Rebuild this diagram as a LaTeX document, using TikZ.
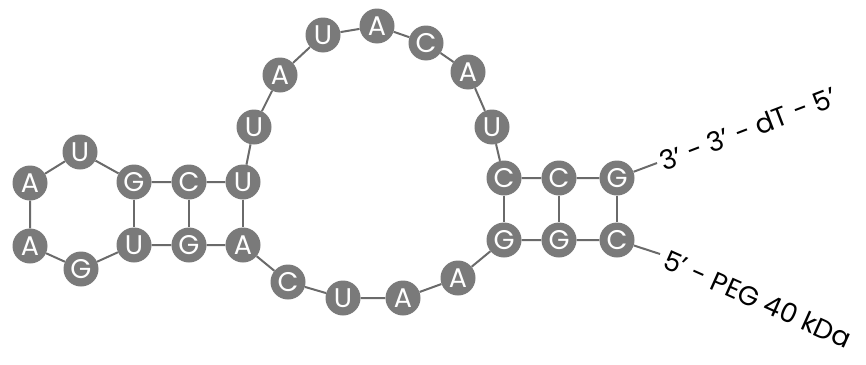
\documentclass[tikz,border=0pt]{standalone}
\usepackage{fontspec}
\setmainfont{Poppins}
\definecolor{basegrey}{HTML}{7A7A7A}
\definecolor{linkgrey}{HTML}{6A6A6A}
\begin{document}
\begin{tikzpicture}[x=1pt,y=-1pt,
  nt/.style={circle,fill=basegrey,minimum size=35pt,inner sep=0pt,text=white,font=\fontsize{27}{27}\selectfont},
  bb/.style={draw=linkgrey,line width=2pt},
  lbl/.style={font=\fontsize{27}{27}\selectfont,text=black,inner sep=0pt}]
\useasboundingbox (0,0) rectangle (866,364);
% top row left
\node[nt] (a1) at (30,183) {A};
\node[nt] (u1) at (80,152) {U};
\node[nt] (g1) at (134,182) {G};
\node[nt] (c1) at (189,182) {C};
\node[nt] (u2) at (243,182) {U};
% loop
\node[nt] (u3) at (254,127) {U};
\node[nt] (a2) at (280,75) {A};
\node[nt] (u4) at (323,35) {U};
\node[nt] (a3) at (377,26) {A};
\node[nt] (c2) at (426,43) {C};
\node[nt] (a4) at (468,72) {A};
\node[nt] (u5) at (492,127) {U};
% right top row
\node[nt] (c3) at (504,178) {C};
\node[nt] (c4) at (559,178) {C};
\node[nt] (g2) at (617,178) {G};
% bottom row left
\node[nt] (a5) at (30,246) {A};
\node[nt] (g3) at (81,269) {G};
\node[nt] (u6) at (134,245) {U};
\node[nt] (g4) at (189,245) {G};
\node[nt] (a6) at (243,245) {A};
% lower loop
\node[nt] (c5) at (288,282) {C};
\node[nt] (u7) at (343,298) {U};
\node[nt] (a7) at (403,298) {A};
\node[nt] (a8) at (458,278) {A};
% right bottom row
\node[nt] (g5) at (504,240) {G};
\node[nt] (g6) at (559,240) {G};
\node[nt] (c6) at (617,240) {C};
% end coordinates
\coordinate (e3) at (657,163);
\coordinate (e5) at (660,254);
% labels
\node[lbl,anchor=base west,rotate=21] (t3) at (664,172) {3' - 3' - dT - 5'};
\node[lbl,anchor=base west,rotate=-24] (t5) at (661,267) {5' - PEG 40 kDa};
% backbone
\draw[bb] (c6) -- (g6) -- (g5) -- (a8) -- (a7) -- (u7) -- (c5) -- (a6) -- (g4) -- (u6) -- (g3) -- (a5) -- (a1) -- (u1) -- (g1) -- (c1) -- (u2) -- (u3) -- (a2) -- (u4) -- (a3) -- (c2) -- (a4) -- (u5) -- (c3) -- (c4) -- (g2);
\draw[bb] (g2) -- (e3);
\draw[bb] (c6) -- (e5);
% base pairs
\draw[bb] (g1) -- (u6);
\draw[bb] (c1) -- (g4);
\draw[bb] (u2) -- (a6);
\draw[bb] (c3) -- (g5);
\draw[bb] (c4) -- (g6);
\draw[bb] (g2) -- (c6);
\end{tikzpicture}
\end{document}
